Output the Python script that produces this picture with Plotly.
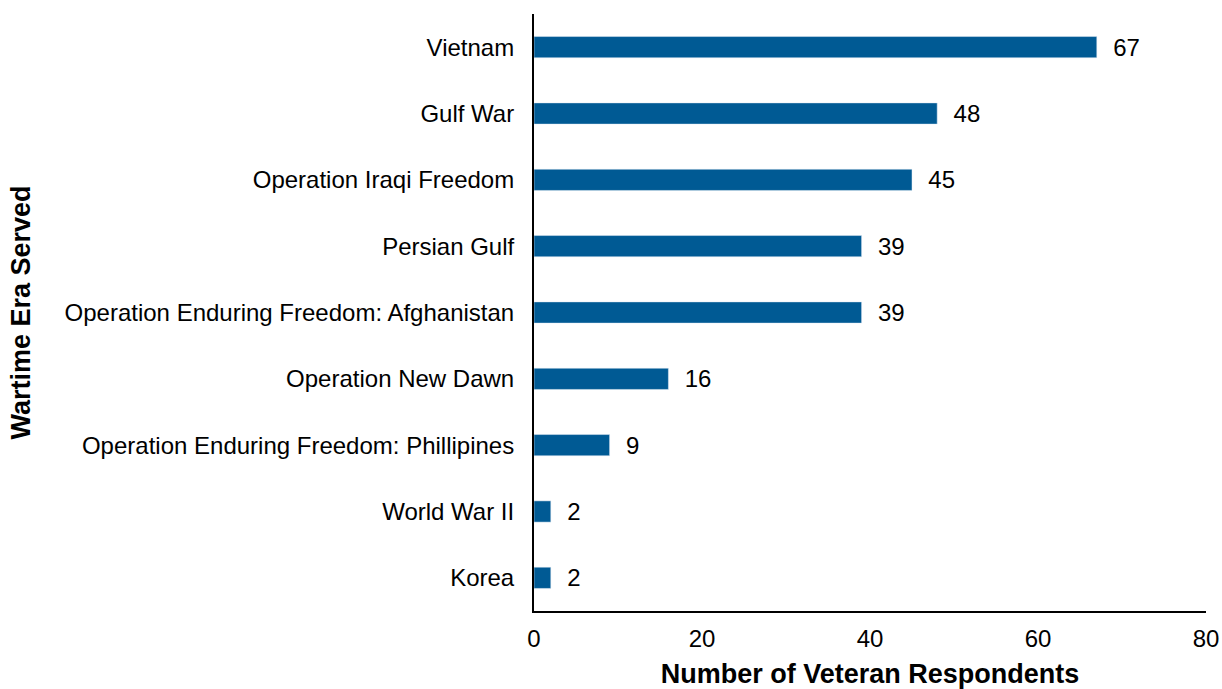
import plotly.graph_objects as go

eras = [
    'Vietnam',
    'Gulf War',
    'Operation Iraqi Freedom',
    'Persian Gulf',
    'Operation Enduring Freedom: Afghanistan',
    'Operation New Dawn',
    'Operation Enduring Freedom: Phillipines',
    'World War II',
    'Korea',
]
respondents = [67, 48, 45, 39, 39, 16, 9, 2, 2]

fig = go.Figure()

fig.add_trace(go.Bar(
    y=eras,
    x=respondents,
    orientation='h',
    width=0.32,
    marker_color='#005A94',
    text=['\u00a0\u00a0' + str(v) for v in respondents],
    textposition='outside',
    constraintext='none',
    textfont=dict(size=24, color='black'),
    cliponaxis=False,
))

fig.update_layout(
    width=1222,
    height=689,
    showlegend=False,
    paper_bgcolor='white',
    plot_bgcolor='white',
    font=dict(family='Liberation Sans, Arial, sans-serif', color='black', size=24),
    margin=dict(t=14, l=534, r=16, b=78),
    xaxis=dict(
        range=[0, 80],
        dtick=20,
        automargin=False,
        showgrid=False,
        zeroline=False,
        showline=True,
        linecolor='black',
        linewidth=2,
        ticks='',
        ticklabelstandoff=5,
        ticklabeloverflow='allow',
        tickfont=dict(size=24),
        title=dict(text='<b>Number of Veteran Respondents</b>', font=dict(size=27), standoff=22),
    ),
    yaxis=dict(
        autorange='reversed',
        automargin=False,
        showgrid=False,
        zeroline=False,
        showline=True,
        linecolor='black',
        linewidth=2,
        ticks='',
        ticklabelstandoff=13,
        tickfont=dict(size=24),
        title=dict(text='<b>Wartime Era Served</b>', font=dict(size=27), standoff=26),
    ),
)

# page margin off so the figure sits flush in the window
fig.write_html(
    "out.html",
    config={'displayModeBar': False},
    post_script="document.body.style.margin='0';document.body.style.overflow='hidden';",
)
